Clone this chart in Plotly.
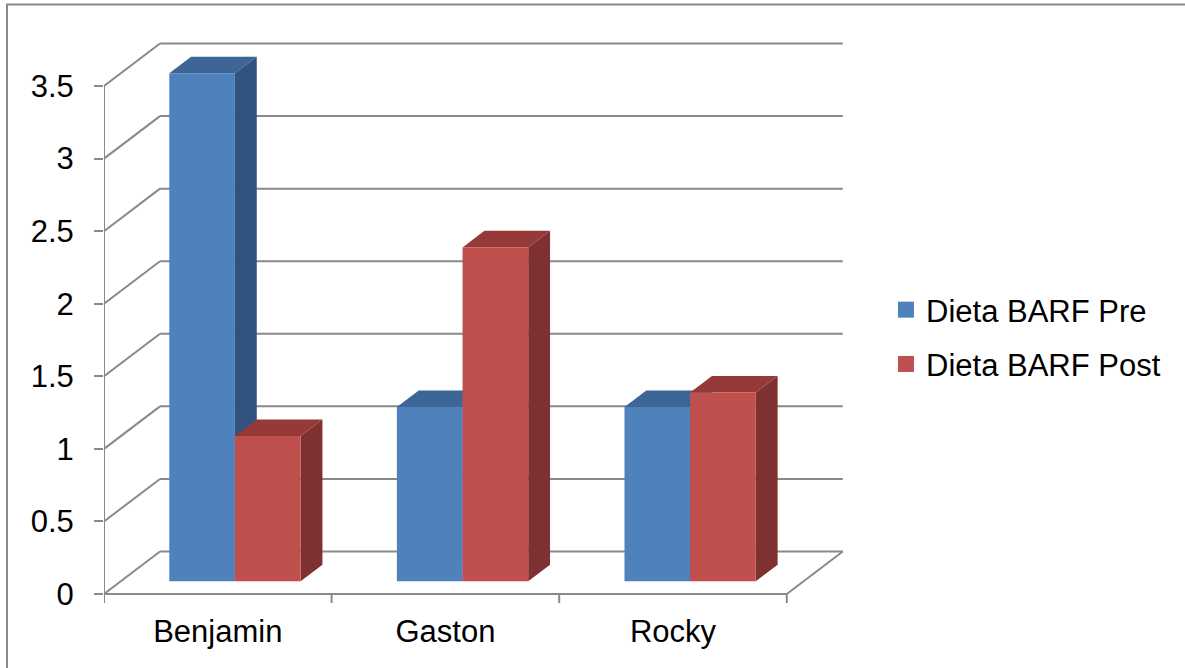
import plotly.graph_objects as go

# ---- data -------------------------------------------------------------
categories = ["Benjamin", "Gaston", "Rocky"]
pre_values = [3.5, 1.2, 1.2]
post_values = [1.0, 2.3, 1.3]
series_names = ["Dieta BARF Pre", "Dieta BARF Post"]
y_ticks = [0, 0.5, 1, 1.5, 2, 2.5, 3, 3.5]
y_tick_labels = ["0", "0.5", "1", "1.5", "2", "2.5", "3", "3.5"]

# ---- look -------------------------------------------------------------
FONT = "Liberation Sans, Arial, sans-serif"
FONT_SIZE = 31
GRID = "#898989"
FACE_COLORS = [
    {"front": "#4F81BD", "top": "#3D6595", "side": "#315380"},   # Pre
    {"front": "#C0504D", "top": "#963A38", "side": "#7E3130"},   # Post
]

# ---- pseudo-3D geometry (in axis units) --------------------------------
W, H = 1185, 668
X_PX = 227.6            # pixels per category slot
Y_PX = 145.14           # pixels per value unit
DEPTH_DX = 56 / X_PX    # full wall depth, horizontal component
DEPTH_DY = 42.5 / Y_PX  # full wall depth, vertical component
BAR_START = 0.213       # bar offset inside a slot
BAR_W = 0.2885          # width of one bar
D_FRONT, D_BACK = 0.30, 0.69   # depth span of the bars
V_MAX = y_ticks[-1]

M_L, M_R, M_T, M_B = 104, 325, 30, 58
plot_w = W - M_L - M_R
plot_h = H - M_T - M_B
floor_px = 594
x_range = [0, plot_w / X_PX]
y_range = [-(H - M_B - floor_px) / Y_PX, (floor_px - M_T) / Y_PX]


def proj(x, v, d):
    """Project slot position x, value v and depth d (0 front, 1 back)."""
    return x + d * DEPTH_DX, v + d * DEPTH_DY


fig = go.Figure()


def poly(points, color):
    xs = [p[0] for p in points] + [points[0][0]]
    ys = [p[1] for p in points] + [points[0][1]]
    fig.add_trace(go.Scatter(
        x=xs, y=ys, mode="lines", fill="toself", fillcolor=color,
        line=dict(width=0, color=color), hoverinfo="skip", showlegend=False,
    ))


# bars: every face is built from the value it represents
for s, values in enumerate([pre_values, post_values]):
    cols = FACE_COLORS[s]
    for i, val in enumerate(values):
        x0 = i + BAR_START + s * BAR_W
        x1 = x0 + BAR_W
        top = [proj(x0, val, D_FRONT), proj(x1, val, D_FRONT),
               proj(x1, val, D_BACK), proj(x0, val, D_BACK)]
        side = [proj(x1, 0, D_FRONT), proj(x1, val, D_FRONT),
                proj(x1, val, D_BACK), proj(x1, 0, D_BACK)]
        front = [proj(x0, 0, D_FRONT), proj(x1, 0, D_FRONT),
                 proj(x1, val, D_FRONT), proj(x0, val, D_FRONT)]
        poly(top, cols["top"])
        poly(side, cols["side"])
        poly(front, cols["front"])

# legend entries
for s, name in enumerate(series_names):
    fig.add_trace(go.Scatter(
        x=[None], y=[None], mode="markers", name=name,
        legendgroup=name,
        marker=dict(symbol="square", size=16, color=FACE_COLORS[s]["front"]),
    ))

# walls, floor and gridlines
shapes = []


def seg(a, b):
    shapes.append(dict(type="line", xref="x", yref="y", layer="below",
                       x0=a[0], y0=a[1], x1=b[0], y1=b[1],
                       line=dict(color=GRID, width=2)))


n = len(categories)
for v in y_ticks:
    seg(proj(0, v, 0), proj(0, v, 1))       # side wall
    seg(proj(0, v, 1), proj(n, v, 1))       # back wall
seg(proj(0, 0, 0), proj(0, V_MAX, 0))       # value axis
seg(proj(0, 0, 0), proj(n, 0, 0))           # floor front edge
seg(proj(n, 0, 0), proj(n, 0, 1))           # floor right edge
tick_len = 9 / Y_PX
for k in range(n + 1):
    seg((k, 0), (k, -tick_len))

# outer frame of the chart
shapes.append(dict(type="rect", xref="paper", yref="paper", layer="below",
                   x0=(7 - M_L) / plot_w, x1=(W + 20 - M_L) / plot_w,
                   y0=-(M_B + 20) / plot_h, y1=(H - M_B - 4.5) / plot_h,
                   line=dict(color=GRID, width=2)))

fig.update_layout(
    width=W, height=H,
    margin=dict(l=M_L, r=M_R, t=M_T, b=M_B),
    paper_bgcolor="white", plot_bgcolor="white",
    font=dict(family=FONT, size=FONT_SIZE, color="black"),
    shapes=shapes,
    showlegend=True,
    legend=dict(
        x=(886 - M_L) / plot_w, y=(H - M_B - 283) / plot_h,
        xanchor="left", yanchor="top",
        traceorder="grouped", tracegroupgap=11,
        font=dict(family=FONT, size=FONT_SIZE, color="black"),
        bgcolor="rgba(0,0,0,0)",
    ),
    xaxis=dict(
        range=x_range, showgrid=False, zeroline=False, showline=False,
        tickvals=[i + 0.5 for i in range(n)], ticktext=categories,
        ticks="", ticklabelstandoff=0,
        fixedrange=True,
    ),
    yaxis=dict(
        range=y_range, showgrid=False, zeroline=False, showline=False,
        tickvals=y_ticks, ticktext=y_tick_labels,
        ticks="outside", ticklen=9, tickwidth=2, tickcolor=GRID,
        ticklabelstandoff=14,
        fixedrange=True,
    ),
)

fig.write_html("out.html")
